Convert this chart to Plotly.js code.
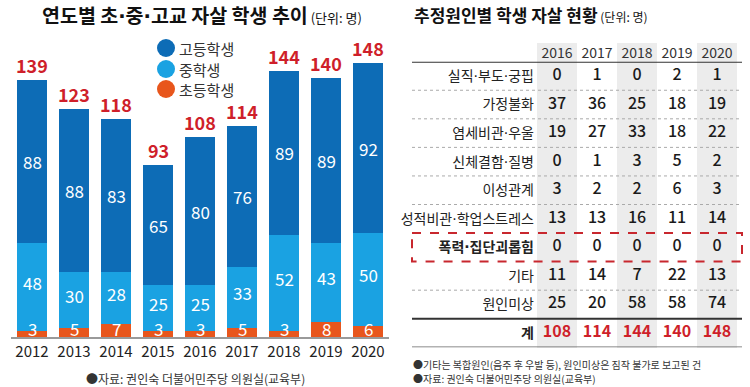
<!DOCTYPE html>
<html>
<head>
<meta charset="utf-8">
<script src="https://cdn.plot.ly/plotly-3.0.1.min.js"></script>
<style>html,body{margin:0;padding:0;background:#fff;}#chart{width:750px;height:387px;}</style>
</head>
<body>
<div id="chart"></div>
<script>
// ---- Left chart data ----
const years = ['2012','2013','2014','2015','2016','2017','2018','2019','2020'];
const highSchool = [88, 88, 83, 65, 80, 76, 89, 89, 92];
const middleSchool = [48, 30, 28, 25, 25, 33, 52, 43, 50];
const elementary = [3, 5, 7, 3, 3, 5, 3, 8, 6];
const seriesNames = ['고등학생', '중학생', '초등학생'];

// ---- Right table data ----
const tableYears = ['2016','2017','2018','2019','2020'];
const causes = ['실직·부도·궁핍','가정불화','염세비관·우울','신체결함·질병','이성관계','성적비관·학업스트레스','폭력·집단괴롭힘','기타','원인미상'];
const c2016 = [0, 37, 19, 0, 3, 13, 0, 11, 25];
const c2017 = [1, 36, 27, 1, 2, 13, 0, 14, 20];
const c2018 = [0, 25, 33, 3, 2, 16, 0, 7, 58];
const c2019 = [2, 18, 18, 5, 6, 11, 0, 22, 58];
const c2020 = [1, 19, 22, 2, 3, 14, 0, 13, 74];
const totalLabel = '계';

const FONT = '"Noto Sans CJK KR", "Noto Sans", sans-serif';
const C_HIGH = '#0d6cb6', C_MID = '#1aa2e2', C_ELEM = '#e8561c', C_RED = '#cf1f2a';
const W = 750, H = 387;
const px = x => x / W;
const py = y => 1 - y / H;
// narrow middle dot from a Latin font
const dot = s => s.split('·').join('<span style="font-family:\'DejaVu Sans\'">·</span>');

const totals = years.map((_, i) => highSchool[i] + middleSchool[i] + elementary[i]);

const traces = [
  {type:'bar', x:years, y:elementary, name:seriesNames[2], marker:{color:C_ELEM}, xaxis:'x', yaxis:'y', hoverinfo:'skip'},
  {type:'bar', x:years, y:middleSchool, name:seriesNames[1], marker:{color:C_MID}, xaxis:'x', yaxis:'y', hoverinfo:'skip'},
  {type:'bar', x:years, y:highSchool, name:seriesNames[0], marker:{color:C_HIGH}, xaxis:'x', yaxis:'y', hoverinfo:'skip'}
];

// table numbers
const colArrays = [c2016, c2017, c2018, c2019, c2020];
const tx = [], ty = [], tt = [];
colArrays.forEach((col, j) => col.forEach((v, r) => { tx.push(tableYears[j]); ty.push(r); tt.push(String(v)); }));
traces.push({type:'scatter', mode:'text', x:tx, y:ty, text:tt, xaxis:'x2', yaxis:'y2',
  textfont:{family:FONT, size:16, color:'#1a1a1a', weight:500}, hoverinfo:'skip', showlegend:false});
const colTotals = colArrays.map(col => col.reduce((a, b) => a + b, 0));
traces.push({type:'scatter', mode:'text', x:tableYears, y:tableYears.map(() => causes.length), text:colTotals.map(String),
  xaxis:'x2', yaxis:'y2', textfont:{family:FONT, size:16, color:C_RED, weight:700}, hoverinfo:'skip', showlegend:false});

const annotations = [];
const shapes = [];
years.forEach((yr, i) => {
  annotations.push({x:i, y:elementary[i] + middleSchool[i] + highSchool[i] / 2, xref:'x', yref:'y', text:String(highSchool[i]),
    showarrow:false, font:{family:FONT, size:17, color:'#fff'}});
  annotations.push({x:i, y:elementary[i] + middleSchool[i] / 2, xref:'x', yref:'y', text:String(middleSchool[i]), yshift:5,
    showarrow:false, font:{family:FONT, size:17, color:'#fff'}});
  annotations.push({x:i, y:0, xref:'x', yref:'y', text:String(elementary[i]), yanchor:'middle', yshift:9, borderpad:0,
    showarrow:false, font:{family:FONT, size:17, color:'#fff'}});
  annotations.push({x:i, y:totals[i], xref:'x', yref:'y', text:'<b>' + totals[i] + '</b>', yanchor:'bottom', yshift:0,
    showarrow:false, font:{family:FONT, size:18, color:C_RED}});
});

// titles
annotations.push({xref:'paper', yref:'paper', x:px(40), y:py(15), xanchor:'left', yanchor:'middle', showarrow:false,
  text:'<b>' + dot('연도별 초·중·고교 자살 학생 추이') + '</b><span style="font-size:13px"> (단위: 명)</span>',
  font:{family:FONT, size:19.5, color:'#111'}});
annotations.push({xref:'paper', yref:'paper', x:px(412), y:py(15), xanchor:'left', yanchor:'middle', showarrow:false,
  text:'<b>추정원인별 학생 자살 현황</b><span style="font-size:12px"> (단위: 명)</span>',
  font:{family:FONT, size:17, color:'#111'}});

// legend
const legendColors = [C_HIGH, C_MID, C_ELEM];
const legendY = [48, 69, 89];
seriesNames.forEach((n, k) => {
  shapes.push({type:'circle', xref:'paper', yref:'paper', x0:px(157), x1:px(175), y0:py(legendY[k] + 9), y1:py(legendY[k] - 9),
    fillcolor:legendColors[k], line:{width:0}});
  annotations.push({xref:'paper', yref:'paper', x:px(177), y:py(legendY[k]), xanchor:'left', yanchor:'middle', showarrow:false,
    text:n, font:{family:FONT, size:15, color:'#333'}});
});

// sources
annotations.push({xref:'paper', yref:'paper', x:px(195), y:py(378), xanchor:'center', yanchor:'middle', showarrow:false,
  text:'●자료: 권인숙 더불어민주당 의원실(교육부)', font:{family:FONT, size:12, color:'#333'}});
annotations.push({xref:'paper', yref:'paper', x:px(412), y:py(364), xanchor:'left', yanchor:'middle', showarrow:false,
  text:'●기타는 복합원인(음주 후 우발 등), 원인미상은 짐작 불가로 보고된 건', font:{family:FONT, size:10, color:'#333'},
  borderpad:0});
annotations.push({xref:'paper', yref:'paper', x:px(412), y:py(378), xanchor:'left', yanchor:'middle', showarrow:false,
  text:'●자료: 권인숙 더불어민주당 의원실(교육부)', font:{family:FONT, size:10, color:'#333'}, borderpad:0});

// table shading for alternate columns
tableYears.forEach((yr, j) => {
  if (j % 2 === 0) {
    shapes.push({type:'rect', layer:'below', xref:'x2', yref:'paper', x0:j - 0.5, x1:j + 0.5, y0:py(348), y1:py(43),
      fillcolor:'#ececec', line:{width:0}});
  }
});
const tblX0 = px(412), tblX1 = px(742);
shapes.push({type:'line', xref:'paper', yref:'y2', x0:tblX0, x1:tblX1, y0:-0.5, y1:-0.5, line:{color:'#333', width:2}});
[0.5, 1.5, 2.5, 3.5, 4.5, 7.5].forEach(b => {
  shapes.push({type:'line', xref:'paper', yref:'y2', x0:tblX0, x1:tblX1, y0:b, y1:b, line:{color:'#aaa', width:1, dash:'dot'}});
});
shapes.push({type:'line', xref:'paper', yref:'y2', x0:tblX0, x1:tblX1, y0:8.5, y1:8.5, line:{color:'#333', width:2}});
shapes.push({type:'line', xref:'paper', yref:'y2', x0:tblX0, x1:tblX1, y0:9.5, y1:9.5, line:{color:'#666', width:1.5}});
shapes.push({type:'rect', xref:'paper', yref:'y2', x0:tblX0, x1:tblX1, y0:5.5, y1:6.5, line:{color:'#c8272e', width:2, dash:'dash'}});

const rowTicks = causes.map((c, r) => r === 6 ? '<b>' + dot(c) + '</b>' : dot(c)).concat(['<b>' + totalLabel + '</b>']);

const layout = {
  width: W, height: H,
  margin: {l:0, r:0, t:0, b:0},
  paper_bgcolor: '#fff', plot_bgcolor: 'rgba(0,0,0,0)',
  showlegend: false,
  barmode: 'stack', bargap: 0.286,
  font: {family: FONT},
  xaxis: {domain:[px(11), px(389)], type:'category', range:[-0.5, 8.5], showline:true, linecolor:'#9a9a9a', linewidth:1.5,
    ticks:'', showgrid:false, zeroline:false, tickfont:{family:FONT, size:15, color:'#222'}, fixedrange:true},
  yaxis: {domain:[py(337), 1], range:[0, 337 / 1.85], visible:false, fixedrange:true},
  xaxis2: {domain:[px(537), px(737)], type:'category', range:[-0.5, 4.5], anchor:'y2', side:'top', showline:false,
    ticks:'', showgrid:false, zeroline:false, tickfont:{family:FONT, size:14, color:'#333'}, fixedrange:true},
  yaxis2: {domain:[py(347.3), py(61.7)], range:[9.5, -0.5], anchor:'x2', tickmode:'array',
    tickvals: rowTicks.map((_, r) => r), ticktext: rowTicks, showline:false, ticks:'', showgrid:false, zeroline:false,
    tickfont:{family:FONT, size:14, color:'#222'}, ticklabelstandoff:2, fixedrange:true},
  annotations: annotations,
  shapes: shapes
};

Plotly.newPlot('chart', traces, layout, {displayModeBar:false, staticPlot:true});
</script>
</body>
</html>
